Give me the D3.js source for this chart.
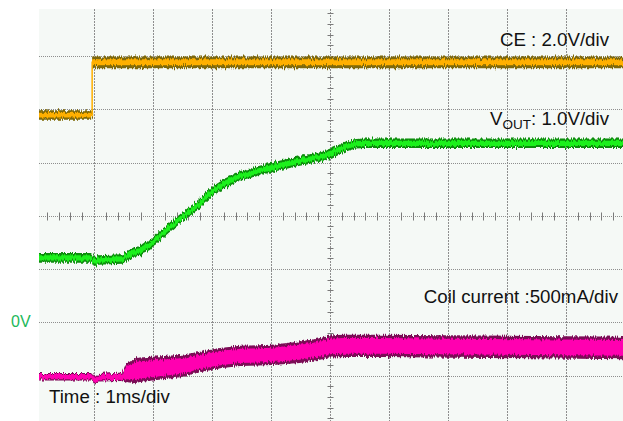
<!DOCTYPE html>
<html><head><meta charset="utf-8">
<script src="https://cdn.jsdelivr.net/npm/d3@7"></script>
<style>
html,body{margin:0;padding:0;background:#fff;}
svg{display:block;font-family:"Liberation Sans",Arial,sans-serif;}
</style></head>
<body>
<svg id="chart" width="623" height="421"></svg>
<script>
// ---- data (time in ms, level in screen divisions from bottom) ----
const ceTime   = [0, 0.96, 0.96, 10];
const ceLevel  = [5.90, 5.90, 6.89, 6.89];
const ceHalf   = [0.09, 0.09, 0.11, 0.11];

const voutTime  = [0, 0.96, 1.0, 1.06, 1.47, 1.57, 1.69, 1.77, 1.82, 1.94, 1.99, 2.28, 2.62, 2.79, 2.99, 3.21, 3.47, 4.01, 4.48, 4.82, 5.02, 5.16, 5.30, 5.43, 5.58, 10];
const voutLevel = [3.22, 3.22, 3.14, 3.18, 3.20, 3.27, 3.33, 3.35, 3.40, 3.46, 3.52, 3.80, 4.10, 4.25, 4.46, 4.62, 4.76, 4.92, 5.04, 5.11, 5.19, 5.26, 5.32, 5.36, 5.37, 5.37];
const voutHalf  = 0.09;

const coilTime  = [0, 0.96, 1.01, 1.06, 1.47, 1.53, 1.69, 1.77, 2.45, 2.79, 3.13, 3.47, 4.01, 4.48, 4.82, 4.99, 5.25, 5.84, 10];
const coilLevel = [0.99, 0.99, 0.91, 0.97, 0.99, 1.06, 1.10, 1.12, 1.19, 1.27, 1.34, 1.38, 1.40, 1.45, 1.51, 1.56, 1.57, 1.57, 1.53];
const coilHalf  = [0.07, 0.07, 0.07, 0.07, 0.08, 0.17, 0.23, 0.23, 0.21, 0.19, 0.19, 0.19, 0.19, 0.20, 0.20, 0.21, 0.21, 0.21, 0.21];

const labels = [
  {text: "CE : 2.0V/div", x: 609, y: 46, anchor: "end"},
  {text: "Coil current :500mA/div", x: 618, y: 303, anchor: "end"},
  {text: "Time : 1ms/div", x: 49, y: 403, anchor: "start"}
];

// ---- layout ----
const W = 623, H = 421;
const plot = {x0: 39, y0: 9, x1: 623, y1: 421};
const x = d3.scaleLinear().domain([0, 10]).range([35.5, 625.5]);
const y = d3.scaleLinear().domain([0, 8]).range([429.5, 3.1]);
const px = v => Math.round(v - 0.5) + 0.5;

const svg = d3.select("#chart");
const defs = svg.append("defs");
defs.append("clipPath").attr("id", "clip").append("rect")
  .attr("x", plot.x0).attr("y", plot.y0).attr("width", plot.x1 - plot.x0).attr("height", plot.y1 - plot.y0);
const f = defs.append("filter").attr("id", "noise").attr("filterUnits", "userSpaceOnUse")
  .attr("x", 0).attr("y", 0).attr("width", W).attr("height", H);
f.append("feTurbulence").attr("type", "fractalNoise").attr("baseFrequency", "0.9 0.06")
  .attr("numOctaves", 2).attr("seed", 4).attr("result", "t");
f.append("feDisplacementMap").attr("in", "SourceGraphic").attr("in2", "t").attr("scale", 6)
  .attr("xChannelSelector", "G").attr("yChannelSelector", "R");

svg.append("rect").attr("x", plot.x0).attr("y", plot.y0)
  .attr("width", plot.x1 - plot.x0).attr("height", plot.y1 - plot.y0).attr("fill", "#f5f9f6");

const g = svg.append("g").attr("clip-path", "url(#clip)");

// grid
const gridColor = "#8e8e8e";
d3.range(1, 10).forEach(k => {
  g.append("line").attr("x1", px(x(k))).attr("x2", px(x(k))).attr("y1", plot.y0).attr("y2", plot.y1)
    .attr("stroke", gridColor).attr("stroke-width", 1).attr("stroke-dasharray", "2,1");
});
d3.range(1, 8).forEach(k => {
  g.append("line").attr("y1", px(y(k))).attr("y2", px(y(k))).attr("x1", plot.x0).attr("x2", plot.x1)
    .attr("stroke", gridColor).attr("stroke-width", 1).attr("stroke-dasharray", "1,1");
});
// center ticks
d3.range(0, 50).forEach(i => {
  const t = i * 0.2;
  if (i % 5 === 0) return;
  g.append("line").attr("x1", px(x(t))).attr("x2", px(x(t))).attr("y1", px(y(4)) - 4).attr("y2", px(y(4)) + 4)
    .attr("stroke", "#7a7a7a").attr("stroke-width", 1);
});
d3.range(0, 40).forEach(i => {
  const v = i * 0.2;
  if (i % 5 === 0) return;
  g.append("line").attr("y1", px(y(v))).attr("y2", px(y(v))).attr("x1", px(x(5)) - 3).attr("x2", px(x(5)) + 3)
    .attr("stroke", "#7a7a7a").attr("stroke-width", 1);
});

// traces
function trace(times, levels, half, dark, bright, coreFrac) {
  const pts = times.map((t, i) => ({t, v: levels[i], h: Array.isArray(half) ? half[i] : half}));
  const outer = d3.area().x(d => x(d.t)).y0(d => y(d.v - d.h)).y1(d => y(d.v + d.h));
  const inner = d3.area().x(d => x(d.t)).y0(d => y(d.v - d.h * coreFrac)).y1(d => y(d.v + d.h * coreFrac));
  const tg = g.append("g").attr("filter", "url(#noise)");
  tg.append("path").datum(pts).attr("d", outer).attr("fill", dark);
  tg.append("path").datum(pts).attr("d", inner).attr("fill", bright);
}
trace(ceTime, ceLevel, ceHalf, "#7d6708", "#ffb000", 0.5);
g.append("path").datum(ceTime.map((t, i) => [t, ceLevel[i]]))
  .attr("d", d3.line().x(d => x(d[0])).y(d => y(d[1])))
  .attr("fill", "none").attr("stroke", "#ffb000").attr("stroke-width", 1.5);
trace(voutTime, voutLevel, voutHalf, "#0a8c0a", "#1ef01e", 0.55);
trace(coilTime, coilLevel, coilHalf, "#7a0a55", "#ff00b0", 0.7);

// labels
labels.forEach(l => {
  svg.append("text").attr("x", l.x).attr("y", l.y).attr("text-anchor", l.anchor)
    .attr("font-size", 18.7).attr("fill", "#111").text(l.text);
});
const vt = svg.append("text").attr("x", 609).attr("y", 125).attr("text-anchor", "end")
  .attr("font-size", 18.7).attr("fill", "#111");
vt.append("tspan").text("V");
vt.append("tspan").attr("font-size", 13.5).attr("dy", 4).text("OUT");
vt.append("tspan").attr("dy", -4).text(": 1.0V/div");
svg.append("text").attr("x", 11).attr("y", 327).attr("font-size", 16).attr("fill", "#22b85a").text("0V");
</script>
</body></html>
